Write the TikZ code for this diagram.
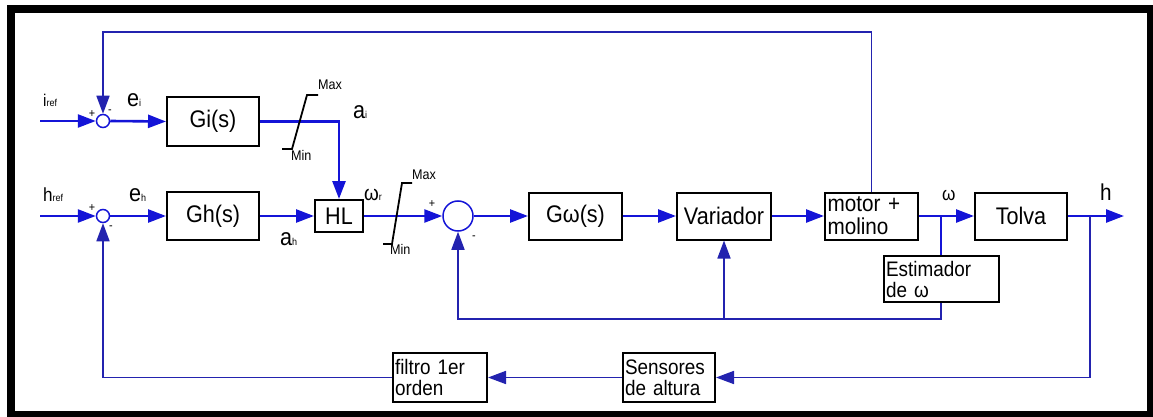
\documentclass[tikz,border=0pt]{standalone}
\usepackage{fontspec}
\setmainfont{Liberation Sans}[FakeStretch=0.9]
\usetikzlibrary{arrows.meta}
\definecolor{sig}{RGB}{20,20,215}
\definecolor{fb}{RGB}{35,35,175}
\begin{document}
\begin{tikzpicture}[x=1pt,y=-1pt,
  blk/.style={draw=black,line width=2pt,fill=white,inner sep=0pt,font=\fontsize{24}{24}\selectfont},
  tblk/.style={draw=black,line width=2pt,fill=white,inner sep=1pt,align=left,font=\fontsize{21}{21}\selectfont},
  sumc/.style={circle,draw=sig,line width=1.5pt,fill=white,inner sep=0pt},
  sigl/.style={draw=sig,line width=2.6pt},
  fbl/.style={draw=fb,line width=1.7pt},
  arr/.style={-{Triangle[length=18pt,width=13pt]}},
  mm/.style={inner sep=0pt,font=\fontsize{14}{14}\selectfont},
  sgn/.style={inner sep=0pt,font=\fontsize{12}{12}\selectfont},
  sat/.style={draw=black,line width=1.8pt}]
\useasboundingbox (0,0) rectangle (1153,417);
\fill[white] (0,0) rectangle (1153,417);
\fill[black] (7,5) rectangle (1153,417);
\fill[white] (15,13) rectangle (1147,411);

% blocks
\node[blk,minimum width=92pt,minimum height=49pt] (gi) at (213,121.5) {Gi(s)};
\node[blk,minimum width=92pt,minimum height=48pt] (gh) at (213,216) {Gh(s)};
\node[blk,minimum width=48pt,minimum height=32pt] (hl) at (339,216) {HL};
\node[blk,minimum width=93pt,minimum height=47pt] (gw) at (575.5,216) {Gω(s)};
\node[blk,minimum width=94pt,minimum height=47pt] (var) at (724,216) {Variador};
\node[tblk,minimum width=93pt,minimum height=47pt,text width=88pt,font=\fontsize{23}{23}\selectfont] (mot) at (871.5,216) {motor +\\molino};
\node[blk,minimum width=92pt,minimum height=47pt] (tol) at (1021,216) {Tolva};
\node[tblk,minimum width=115pt,minimum height=46pt,text width=110pt] (est) at (941,279) {Estimador\\de ω};
\node[tblk,minimum width=92pt,minimum height=49pt,text width=88pt] (sen) at (669,377.5) {Sensores\\de altura};
\node[tblk,minimum width=94pt,minimum height=49pt,text width=90pt] (fil) at (440,377.5) {filtro 1er\\orden};

% summing junctions
\node[sumc,minimum size=13pt] (s1) at (103,121) {};
\node[sumc,minimum size=13pt] (s2) at (103,216) {};
\node[sumc,minimum size=30pt] (s3) at (458,216) {};

% free ends
\coordinate (iin) at (40,121);
\coordinate (hin) at (40,216);
\coordinate (topy) at (0,32);
\coordinate (boty) at (0,319);
\coordinate (wb) at (941,216);
\coordinate (hb) at (1090,216);
\coordinate (hout) at (1124,216);

% forward paths
\draw[sigl,arr] (iin) -- (s1.west);
\draw[sigl,arr] (hin) -- (s2.west);
\draw[sigl,arr] (s1.east) -- (gi.west);
\draw[sigl,arr] (s2.east) -- (gh.west);
\draw[sigl,arr] (gi.east) -| (hl.north);
\draw[sigl,arr] (gh.east) -- (hl.west);
\draw[sigl,arr] (hl.east) -- (s3.west);
\draw[sigl,arr] (s3.east) -- (gw.west);
\draw[sigl,arr] (gw.east) -- (var.west);
\draw[sigl,arr] (var.east) -- (mot.west);
\draw[sigl,arr] (mot.east) -- (tol.west);
\draw[sigl,arr] (tol.east) -- (hout);
\draw[sigl] (wb) -- (est.north);

% feedback paths
\draw[fbl,arr] (mot.north) -- (mot.north |- topy) -| (s1.north);
\draw[fbl,arr] (est.south) -- (est.south |- boty) -| (s3.south);
\draw[fbl,arr] (var.south |- boty) -- (var.south);
\draw[fbl,arr] (hb) |- (sen.east);
\draw[fbl,arr] (sen.west) -- (fil.east);
\draw[fbl,arr] (fil.west) -| (s2.south);

% saturations
\draw[sat] (282,149) -- (292,149) -- (307,95) -- (318,95);
\draw[sat] (383,244) -- (392,244) -- (402,183) -- (412,183);
\node[mm,anchor=south west] (max1) at (318,90) {Max};
\node[mm,anchor=north west] (min1) at (291,150) {Min};
\node[mm,anchor=south west] (max2) at (412,180) {Max};
\node[mm,anchor=north west] (min2) at (390,244) {Min};

% labels
\node[inner sep=0pt,anchor=base west] (iref) at (43,107) {\fontsize{17}{17}\selectfont i\fontsize{10}{10}\selectfont ref};
\node[inner sep=0pt,anchor=base west] (href) at (43,201) {\fontsize{19}{19}\selectfont h\fontsize{10}{10}\selectfont ref};
\node[inner sep=0pt,anchor=base west] (ei) at (127,107) {\fontsize{24}{24}\selectfont e\fontsize{10}{10}\selectfont i};
\node[inner sep=0pt,anchor=base west] (eh) at (129,201) {\fontsize{24}{24}\selectfont e\fontsize{10}{10}\selectfont h};
\node[inner sep=0pt,anchor=base west] (ai) at (353,119) {\fontsize{24}{24}\selectfont a\fontsize{10}{10}\selectfont i};
\node[inner sep=0pt,anchor=base west] (ah) at (280,245) {\fontsize{24}{24}\selectfont a\fontsize{10}{10}\selectfont h};
\node[inner sep=0pt,anchor=base west] (wr) at (364,200) {\fontsize{21}{21}\selectfont ω\fontsize{10}{10}\selectfont r};
\node[inner sep=0pt,anchor=base west] (wl) at (942,200) {\fontsize{19}{19}\selectfont ω};
\node[inner sep=0pt,anchor=base west] (hlab) at (1100,200) {\fontsize{23}{23}\selectfont h};

% signs
\node[sgn] (p1) at (92,114) {+};
\node[sgn] (m1) at (110,112) {-};
\node[sgn] (p2) at (92,208) {+};
\node[sgn] (m2) at (111,228) {-};
\node[sgn] (p3) at (432,204) {+};
\node[sgn] (m3) at (474,238) {-};
\end{tikzpicture}
\end{document}
